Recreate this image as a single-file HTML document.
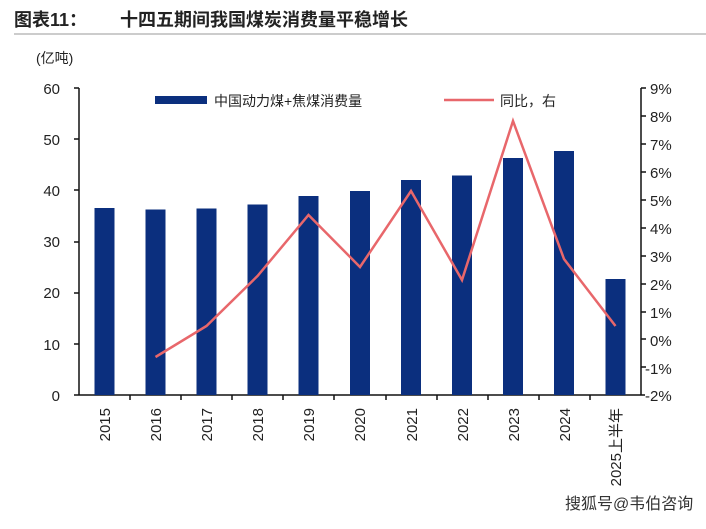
<!DOCTYPE html>
<html><head><meta charset="utf-8"><style>
body{margin:0;background:#fff;}
svg text{font-family:"Liberation Sans","Noto Sans CJK SC",sans-serif;}
</style></head><body>
<svg width="706" height="524" xmlns="http://www.w3.org/2000/svg">
<rect width="706" height="524" fill="#fff"/>
<text x="14" y="26" font-size="18" font-weight="bold" fill="#222">图表11：</text>
<text x="120" y="26" font-size="18" font-weight="bold" fill="#222">十四五期间我国煤炭消费量平稳增长</text>
<line x1="14" y1="34" x2="706" y2="34" stroke="#999" stroke-width="1"/>
<text x="36" y="63" font-size="14" fill="#222">(亿吨)</text>
<g font-size="15" fill="#222" text-anchor="end">
<text x="60" y="94">60</text><text x="60" y="145">50</text><text x="60" y="196">40</text><text x="60" y="247">30</text><text x="60" y="298">20</text><text x="60" y="350">10</text><text x="60" y="401">0</text>
</g>
<g font-size="15" fill="#222">
<text x="650" y="94">9%</text><text x="650" y="122">8%</text><text x="650" y="150">7%</text><text x="650" y="178">6%</text><text x="650" y="206">5%</text><text x="650" y="234">4%</text><text x="650" y="262">3%</text><text x="650" y="290">2%</text><text x="650" y="318">1%</text><text x="650" y="346">0%</text><text x="645" y="374">-1%</text><text x="645" y="401">-2%</text>
</g>
<g stroke="#111" stroke-width="1.5">
<line x1="79" y1="88" x2="79" y2="395"/><line x1="641" y1="88" x2="641" y2="395"/>
<line x1="74" y1="395" x2="645" y2="395"/>
<line x1="74" y1="88" x2="79" y2="88"/><line x1="74" y1="139" x2="79" y2="139"/><line x1="74" y1="190" x2="79" y2="190"/><line x1="74" y1="242" x2="79" y2="242"/><line x1="74" y1="293" x2="79" y2="293"/><line x1="74" y1="344" x2="79" y2="344"/>
<line x1="641" y1="88" x2="646" y2="88"/><line x1="641" y1="116" x2="646" y2="116"/><line x1="641" y1="144" x2="646" y2="144"/><line x1="641" y1="172" x2="646" y2="172"/><line x1="641" y1="200" x2="646" y2="200"/><line x1="641" y1="228" x2="646" y2="228"/><line x1="641" y1="256" x2="646" y2="256"/><line x1="641" y1="284" x2="646" y2="284"/><line x1="641" y1="312" x2="646" y2="312"/><line x1="641" y1="339" x2="646" y2="339"/><line x1="641" y1="367" x2="646" y2="367"/>
<line x1="130" y1="395" x2="130" y2="400"/><line x1="181" y1="395" x2="181" y2="400"/><line x1="232" y1="395" x2="232" y2="400"/><line x1="283" y1="395" x2="283" y2="400"/><line x1="334" y1="395" x2="334" y2="400"/><line x1="386" y1="395" x2="386" y2="400"/><line x1="437" y1="395" x2="437" y2="400"/><line x1="488" y1="395" x2="488" y2="400"/><line x1="539" y1="395" x2="539" y2="400"/><line x1="590" y1="395" x2="590" y2="400"/>
</g>
<g fill="#0b2f7e">
<rect x="94.5" y="208" width="20" height="187"/>
<rect x="145.5" y="209.5" width="20" height="185.5"/>
<rect x="196.5" y="208.5" width="20" height="186.5"/>
<rect x="247.5" y="204.5" width="20" height="190.5"/>
<rect x="298.5" y="196" width="20" height="199"/>
<rect x="350" y="191" width="20" height="204"/>
<rect x="401" y="180" width="20" height="215"/>
<rect x="452" y="175.5" width="20" height="219.5"/>
<rect x="503" y="158" width="20" height="237"/>
<rect x="554" y="151" width="20" height="244"/>
<rect x="605.5" y="279" width="20" height="116"/>
</g>
<polyline fill="none" stroke="#e8676b" stroke-width="2.5" points="155.5,357 206.5,326 257.5,276 308.5,215 360,267 411,191 462,280 513,121 564,259 615.5,326"/>
<rect x="155" y="96" width="52" height="8" fill="#0b2f7e"/>
<text x="214" y="106" font-size="14" fill="#222">中国动力煤+焦煤消费量</text>
<line x1="444" y1="100" x2="494" y2="100" stroke="#e8676b" stroke-width="2.5"/>
<text x="500" y="106" font-size="14" fill="#222">同比，右</text>
<g font-size="15" fill="#222" text-anchor="end">
<text transform="translate(110,408) rotate(-90)">2015</text>
<text transform="translate(161,408) rotate(-90)">2016</text>
<text transform="translate(212,408) rotate(-90)">2017</text>
<text transform="translate(263,408) rotate(-90)">2018</text>
<text transform="translate(314,408) rotate(-90)">2019</text>
<text transform="translate(365,408) rotate(-90)">2020</text>
<text transform="translate(417,408) rotate(-90)">2021</text>
<text transform="translate(468,408) rotate(-90)">2022</text>
<text transform="translate(519,408) rotate(-90)">2023</text>
<text transform="translate(570,408) rotate(-90)">2024</text>
<text transform="translate(621,408) rotate(-90)">2025上半年</text>
</g>
<text x="565" y="509" font-size="16" fill="#333">搜狐号@韦伯咨询</text>
</svg>
</body></html>
